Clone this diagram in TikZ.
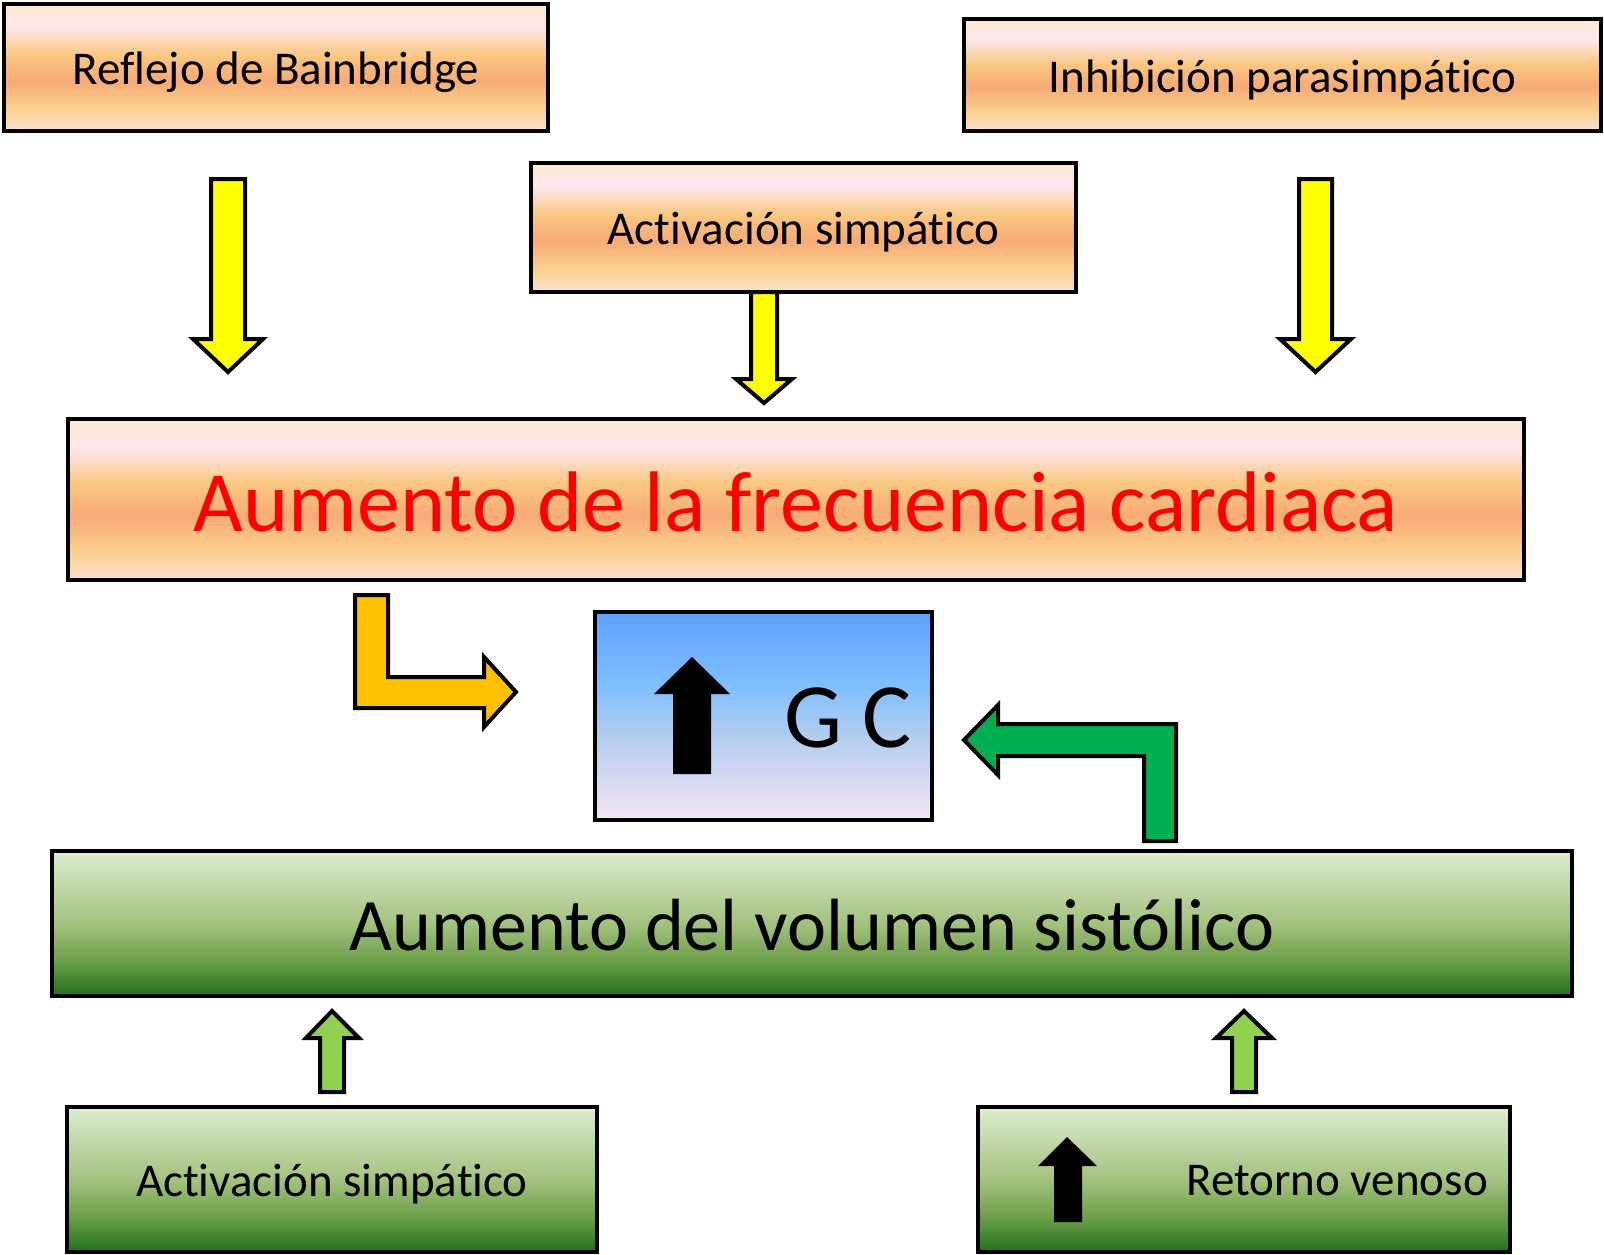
\documentclass[tikz,border=0pt]{standalone}
\usepackage{fontspec}
\setmainfont{Carlito}[RawFeature={-liga;-clig;-dlig}]
\definecolor{s0}{RGB}{251,234,210}
\definecolor{s1}{RGB}{253,230,238}
\definecolor{s2}{RGB}{250,200,130}
\definecolor{s3}{RGB}{247,170,118}
\definecolor{s4}{RGB}{250,208,140}
\definecolor{s5}{RGB}{251,226,210}
\definecolor{g0}{RGB}{222,236,208}
\definecolor{g1}{RGB}{163,194,127}
\definecolor{g2}{RGB}{110,160,75}
\definecolor{g3}{RGB}{32,112,28}
\definecolor{b0}{RGB}{95,160,255}
\definecolor{b1}{RGB}{125,190,255}
\definecolor{b2}{RGB}{180,205,240}
\definecolor{b3}{RGB}{245,230,245}
\definecolor{yel}{RGB}{255,255,0}
\definecolor{org}{RGB}{255,192,0}
\definecolor{grn}{RGB}{0,176,80}
\definecolor{lgrn}{RGB}{146,208,80}
\pgfdeclareverticalshading{sunset}{100bp}{color(0bp)=(s5); color(25bp)=(s5); color(34bp)=(s4); color(45bp)=(s3); color(55bp)=(s2); color(66bp)=(s1); color(75bp)=(s0); color(100bp)=(s0)}
\pgfdeclareverticalshading{grass}{100bp}{color(0bp)=(g3); color(25bp)=(g3); color(37.5bp)=(g2); color(50bp)=(g1); color(75bp)=(g0); color(100bp)=(g0)}
\pgfdeclareverticalshading{sky}{100bp}{color(0bp)=(b3); color(25bp)=(b3); color(45bp)=(b2); color(58bp)=(b1); color(75bp)=(b0); color(100bp)=(b0)}
\tikzset{
  box/.style={draw=black, line width=4pt, shade, inner sep=0pt, outer sep=0pt},
  obox/.style={box, shading=sunset},
  gbox/.style={box, shading=grass},
  small/.style={font=\fontsize{47}{56}\selectfont, text height=34.8pt, text depth=0pt},
  blk/.style={draw=black, line width=4pt, line join=miter},
  blackarrow/.style={fill=black, draw=none}
}
\begin{document}
\begin{tikzpicture}[x=1pt, y=-1pt]
\useasboundingbox (0,0) rectangle (1604,1255);

% boxes
\node[obox, small, minimum width=544pt, minimum height=127pt] (refl) at (276,67.5) {Reflejo de Bainbridge};
\node[obox, small, minimum width=637pt, minimum height=112pt] (inhib) at (1282.5,75) {Inhibición parasimpático};
\node[obox, small, minimum width=545pt, minimum height=129pt] (acttop) at (803.5,227.5) {Activación simpático};
\node[obox, minimum width=1456pt, minimum height=161pt, font=\fontsize{86}{100}\selectfont, text=red, text height=63.6pt, text depth=0pt] (fc) at (796,499.5) {Aumento de la frecuencia cardiaca};
\node[box, shading=sky, minimum width=337pt, minimum height=208pt] (gc) at (763.5,716) {};
\node[gbox, minimum width=1520pt, minimum height=145pt, font=\fontsize{74}{88}\selectfont, text height=54.8pt, text depth=0pt] (vol) at (812,923.5) {Aumento del volumen sistólico};
\node[gbox, small, minimum width=530pt, minimum height=145pt] (actbot) at (332,1179.5) {Activación simpático};
\node[gbox, minimum width=532pt, minimum height=145pt] (ret) at (1244,1179.5) {};

% texts inside GC and Retorno
\node[anchor=base, font=\fontsize{92}{110}\selectfont, inner sep=0pt] (gctext) at (848,747) {G C};
\node[anchor=base east, font=\fontsize{47}{56}\selectfont, inner sep=0pt] (rettext) at (1488,1195) {Retorno venoso};

% black up arrows
\fill[blackarrow] (692,657) -- (730,694) -- (711,694) -- (711,774) -- (673,774) -- (673,694) -- (654,694) -- cycle;
\fill[blackarrow] (1067,1137) -- (1097,1166) -- (1082,1166) -- (1082,1222) -- (1054,1222) -- (1054,1166) -- (1038,1166) -- cycle;

% yellow down arrows
\draw[blk, fill=yel] (211,179) -- (245,179) -- (245,339) -- (263,339) -- (228,372) -- (193,339) -- (211,339) -- cycle;
\draw[blk, fill=yel] (751,292) -- (777,292) -- (777,379) -- (792,379) -- (764,403) -- (736,379) -- (751,379) -- cycle;
\draw[blk, fill=yel] (1299,179) -- (1332,179) -- (1332,339) -- (1351,339) -- (1315.5,372) -- (1280,339) -- (1299,339) -- cycle;

% orange bent arrow
\draw[blk, fill=org] (355,595) -- (388,595) -- (388,677) -- (484,677) -- (484,657) -- (516,692) -- (484,727) -- (484,708) -- (355,708) -- cycle;

% green bent arrow
\draw[blk, fill=grn] (1144,841) -- (1176,841) -- (1176,724) -- (998,724) -- (998,705) -- (964,740) -- (998,775) -- (998,756) -- (1144,756) -- cycle;

% light green up arrows
\draw[blk, fill=lgrn] (332,1011) -- (359,1038) -- (344,1038) -- (344,1092) -- (320,1092) -- (320,1038) -- (306,1038) -- cycle;
\draw[blk, fill=lgrn] (1244,1011) -- (1272,1038) -- (1256,1038) -- (1256,1092) -- (1232,1092) -- (1232,1038) -- (1216,1038) -- cycle;
\end{tikzpicture}
\end{document}
